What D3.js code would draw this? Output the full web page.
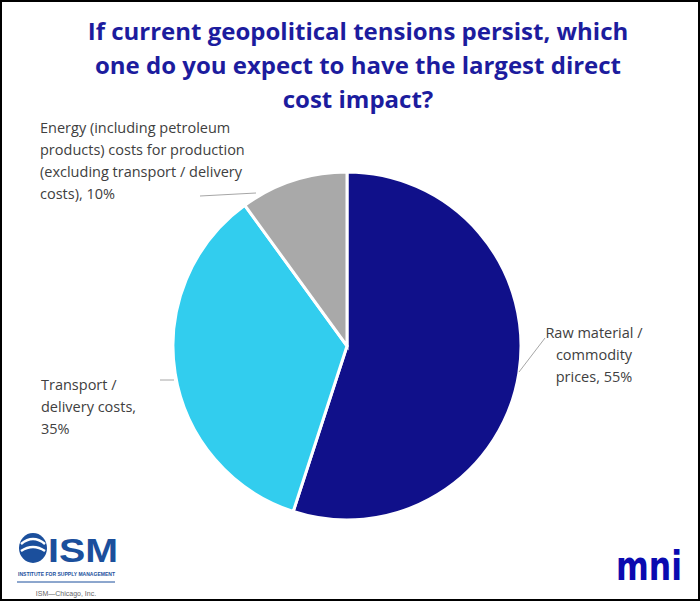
<!DOCTYPE html>
<html><head><meta charset="utf-8">
<script src="https://cdn.jsdelivr.net/npm/d3@7"></script>
<style>body{margin:0;background:#fff}</style>
</head><body><div id="chart"></div>
<script>
const categories = ['Raw material / commodity prices', 'Transport / delivery costs', 'Energy (including petroleum products) costs for production (excluding transport / delivery costs)']
const values = [55, 35, 10]
const colors = ['#10108a', '#32cdee', '#a9a9a9']
const titleLines = ['If current geopolitical tensions persist, which', 'one do you expect to have the largest direct', 'cost impact?']

const W = 700, H = 601, cx = 347, cy = 346, r = 174
const svg = d3.select('#chart').append('svg').attr('width', W).attr('height', H)
svg.append('rect').attr('x', 1).attr('y', 1).attr('width', W - 2).attr('height', H - 2)
    .attr('fill', '#fff').attr('stroke', '#000').attr('stroke-width', 2)

svg.append('text').attr('text-anchor', 'middle').attr('fill', '#1c1c9e')
    .attr('font-family', 'Open Sans, sans-serif').attr('font-weight', 'bold').attr('font-size', 24)
    .selectAll('tspan').data(titleLines).join('tspan')
    .attr('x', 358).attr('y', (d, i) => 40 + i * 34).text(d => d)

const pie = d3.pie().sort(null).value(d => d)
const arc = d3.arc().innerRadius(0).outerRadius(r)
const g = svg.append('g').attr('transform', `translate(${cx},${cy})`)
g.selectAll('path').data(pie(values)).join('path')
    .attr('d', arc).attr('fill', (d, i) => colors[i])
    .attr('stroke', '#fff').attr('stroke-width', 3)

// labels
const labels = [
    { lines: ['Raw material /', 'commodity', 'prices, ' + values[0] + '%'], x: 594, y: 338, anchor: 'middle', lead: [[519, 372], [545, 338]] },
    { lines: ['Transport /', 'delivery costs,', values[1] + '%'], x: 41, y: 390, anchor: 'start', lead: [[174, 380], [160, 380]] },
    { lines: ['Energy (including petroleum', 'products) costs for production', '(excluding transport / delivery', 'costs), ' + values[2] + '%'], x: 40, y: 133, anchor: 'start', lead: [[256, 193], [200, 196]] }
]
labels.forEach(l => {
    svg.append('polyline').attr('points', l.lead.join(' ')).attr('fill', 'none').attr('stroke', '#a6a6a6').attr('stroke-width', 1)
    svg.append('text').attr('text-anchor', l.anchor).attr('fill', '#404040')
        .attr('font-family', 'Open Sans, sans-serif').attr('font-size', 14.5)
        .selectAll('tspan').data(l.lines).join('tspan')
        .attr('x', l.x).attr('y', (d, i) => l.y + i * 22).text(d => d)
})

// ISM logo
const ism = svg.append('g')
ism.append('ellipse').attr('cx', 33).attr('cy', 548).attr('rx', 14).attr('ry', 15).attr('fill', '#1b4f9c')
ism.append('path').attr('d', 'M21,544 Q33,534 45,544 M21,551 Q33,543 45,551').attr('fill', 'none').attr('stroke', '#fff').attr('stroke-width', 2.5)
ism.append('text').attr('x', 48).attr('y', 562).attr('fill', '#1b4f9c').attr('font-family', 'Liberation Sans Narrow, Liberation Sans, sans-serif')
    .attr('font-weight', 'bold').attr('font-size', 33).attr('textLength', 70).attr('lengthAdjust', 'spacingAndGlyphs').text('ISM')
ism.append('text').attr('x', 18).attr('y', 576).attr('fill', '#1b4f9c').attr('font-family', 'Liberation Sans, sans-serif')
    .attr('font-weight', 'bold').attr('font-size', 5).attr('textLength', 97).text('INSTITUTE FOR SUPPLY MANAGEMENT')
ism.append('line').attr('x1', 17).attr('x2', 115).attr('y1', 582).attr('y2', 582).attr('stroke', '#1b4f9c')
ism.append('text').attr('x', 66).attr('y', 596).attr('text-anchor', 'middle').attr('fill', '#666')
    .attr('font-family', 'Liberation Sans, sans-serif').attr('font-size', 7).text('ISM—Chicago, Inc.')

// mni logo
svg.append('text').attr('x', 616).attr('y', 580).attr('fill', '#0a0ab0')
    .attr('font-family', 'DejaVu Sans, sans-serif').attr('font-weight', 'bold').attr('font-size', 40)
    .attr('textLength', 66).attr('lengthAdjust', 'spacingAndGlyphs').text('mni')
</script></body></html>
